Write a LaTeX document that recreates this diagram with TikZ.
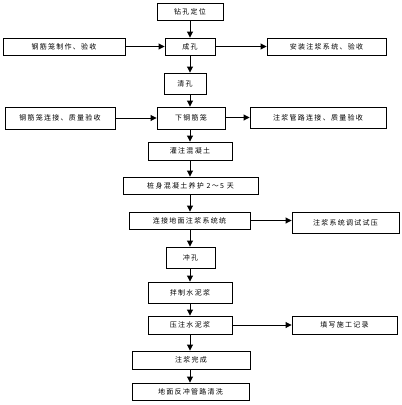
\documentclass[tikz,border=0pt]{standalone}
\usepackage{fontspec}
\newfontfamily\cjk[LetterSpace=18]{Noto Sans CJK SC}
\usetikzlibrary{arrows.meta}
\begin{document}
\begin{tikzpicture}[x=1pt,y=-1pt,
  box/.style={draw=black,line width=0.9pt,fill=white,inner sep=0pt,font=\cjk\fontsize{7}{8}\selectfont},
  arr/.style={draw=black,line width=0.9pt,-{Triangle[length=6pt,width=6pt]}}]
\fill[white] (0,0) rectangle (402,405);
\useasboundingbox (0,0) rectangle (402,405);
\coordinate (cx) at (190,0);
\node[box,minimum width=66pt,minimum height=17pt] (a) at (190,11.5) {钻孔定位};
\node[box,minimum width=50pt,minimum height=17pt] (b) at (190,46.5) {成孔};
\node[box,minimum width=122pt,minimum height=17pt] (bl) at (64,46.5) {钢筋笼制作、验收};
\node[box,minimum width=119pt,minimum height=17pt] (br) at (326.5,46.5) {安装注浆系统、验收};
\node[box,minimum width=42pt,minimum height=21pt] (c) at (185,83.5) {清孔};
\node[box,minimum width=68pt,minimum height=22pt] (d) at (191,118) {下钢筋笼};
\node[box,minimum width=110pt,minimum height=22pt] (dl) at (60,118) {钢筋笼连接、质量验收};
\node[box,minimum width=136pt,minimum height=21pt] (dr) at (318,117.5) {注浆管路连接、质量验收};
\node[box,minimum width=84pt,minimum height=18pt] (e) at (190,151) {灌注混凝土};
\node[box,minimum width=135pt,minimum height=17pt] (f) at (190.5,185.5) {桩身混凝土养护 2～5 天};
\node[box,minimum width=121pt,minimum height=17pt] (g) at (189.5,220.5) {连接地面注浆系统统};
\node[box,minimum width=107pt,minimum height=21pt] (gr) at (345.5,222.5) {注浆系统调试试压};
\node[box,minimum width=49pt,minimum height=21pt] (h) at (190.5,257.5) {冲孔};
\node[box,minimum width=84pt,minimum height=21pt] (i) at (190,292.5) {拌制水泥浆};
\node[box,minimum width=84pt,minimum height=18pt] (j) at (190,325) {压注水泥浆};
\node[box,minimum width=105pt,minimum height=18pt] (jr) at (344.5,325) {填写施工记录};
\node[box,minimum width=118pt,minimum height=18pt] (k) at (191,360) {注浆完成};
\node[box,minimum width=117pt,minimum height=17pt] (l) at (190.5,391.5) {地面反冲管路清洗};
% vertical arrows
\foreach \u/\v in {a/b,b/c,c/d,d/e,e/f,f/g,g/h,h/i,i/j,j/k,k/l}
  \draw[arr] (\u.south -| cx) -- (\v.north -| cx);
% horizontal arrows
\draw[arr] (bl.east) -- (b.west);
\draw[arr] (b.east) -- (br.west);
\draw[arr] (dl.east) -- (d.west |- dl.east);
\draw[arr] (d.east |- dr.west) -- (dr.west);
\draw[arr] (g.east) -- (gr.west |- g.east);
\draw[arr] (j.east) -- (jr.west);
\end{tikzpicture}
\end{document}
